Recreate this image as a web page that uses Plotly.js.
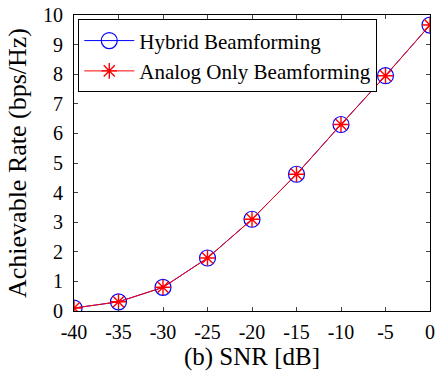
<!DOCTYPE html>
<html><head><meta charset="utf-8">
<script src="https://cdn.plot.ly/plotly-3.0.1.min.js"></script>
<style>body{margin:0;padding:0;background:#fff}#plot{width:436px;height:373px}</style>
</head><body><div id="plot"></div>
<script>
const snr = [-40, -35, -30, -25, -20, -15, -10, -5, 0];
const hybridRate = [0.1, 0.31, 0.8, 1.79, 3.1, 4.62, 6.3, 7.95, 9.66];
const analogRate = [0.1, 0.31, 0.8, 1.79, 3.1, 4.62, 6.3, 7.95, 9.66];
const xTicks = [-40, -35, -30, -25, -20, -15, -10, -5, 0];
const yTicks = [0, 1, 2, 3, 4, 5, 6, 7, 8, 9, 10];
const FONT = 'Liberation Serif';

const traces = [
  {x: snr, y: hybridRate, name: 'Hybrid Beamforming', mode: 'lines+markers',
   line: {color: '#0000ff', width: 1},
   marker: {symbol: 'circle-open', size: 16, color: '#0000ff', line: {width: 1.2, color: '#0000ff'}}},
  {x: snr, y: analogRate, name: 'Analog Only Beamforming', mode: 'lines+markers',
   line: {color: '#ff0000', width: 1},
   marker: {symbol: 'asterisk-open', size: 13, color: '#ff0000', line: {width: 1.4, color: '#ff0000'}}}
];
const layout = {
  width: 436, height: 373,
  margin: {l: 74, r: 6, t: 15, b: 62},
  paper_bgcolor: '#fff', plot_bgcolor: '#fff',
  font: {family: FONT, color: '#000', size: 20},
  showlegend: true,
  legend: {x: 0.012, y: 0.985, xanchor: 'left', yanchor: 'top', bgcolor: '#fff',
    bordercolor: '#000', borderwidth: 1, font: {family: FONT, size: 21}, tracegroupgap: 0,
    itemwidth: 50},
  xaxis: {range: [-40, 0], tickvals: xTicks, ticktext: xTicks.map(String),
    ticks: 'inside', ticklen: 4, mirror: 'ticks', showline: true, linecolor: '#000', linewidth: 1,
    showgrid: false, zeroline: false, tickfont: {family: FONT, size: 20}, ticklabelstandoff: 3,
    title: {text: '(b) SNR [dB]', font: {family: FONT, size: 25}, standoff: 4}},
  yaxis: {range: [0, 10], tickvals: yTicks, ticktext: yTicks.map(String),
    ticks: 'inside', ticklen: 4, mirror: 'ticks', showline: true, linecolor: '#000', linewidth: 1,
    showgrid: false, zeroline: false, tickfont: {family: FONT, size: 20}, ticklabelstandoff: 6,
    title: {text: 'Achievable Rate (bps/Hz)', font: {family: FONT, size: 26}, standoff: 8}}
};
Plotly.newPlot('plot', traces, layout, {displayModeBar: false, staticPlot: true});
</script></body></html>
